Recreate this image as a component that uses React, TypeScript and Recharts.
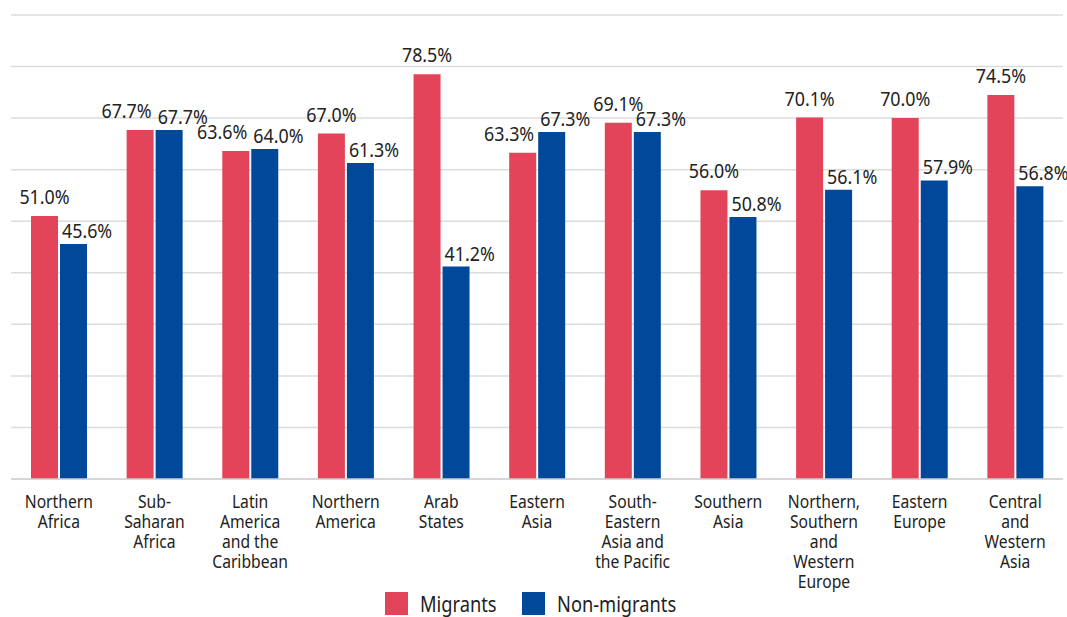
import React from "react";
import { BarChart, Bar, XAxis, YAxis, CartesianGrid, Legend, LabelList } from "recharts";

const categories = [
  "Northern\nAfrica",
  "Sub-\nSaharan\nAfrica",
  "Latin\nAmerica\nand the\nCaribbean",
  "Northern\nAmerica",
  "Arab\nStates",
  "Eastern\nAsia",
  "South-\nEastern\nAsia and\nthe Pacific",
  "Southern\nAsia",
  "Northern,\nSouthern\nand\nWestern\nEurope",
  "Eastern\nEurope",
  "Central\nand\nWestern\nAsia",
];
const migrants = [51.0, 67.7, 63.6, 67.0, 78.5, 63.3, 69.1, 56.0, 70.1, 70.0, 74.5];
const nonMigrants = [45.6, 67.7, 64.0, 61.3, 41.2, 67.3, 67.3, 50.8, 56.1, 57.9, 56.8];
const yTicks = [0, 10, 20, 30, 40, 50, 60, 70, 80, 90];
const seriesNames = ["Migrants", "Non-migrants"];

const RED = "#E4445A";
const BLUE = "#00489A";
const FONT = "'Noto Sans', 'Open Sans', sans-serif";
const SQUEEZE = 0.87;
const BAR_GAP = 2;
const RED_GAP = 12;
const BLUE_GAP = 6;

const data = categories.map((c, i) => ({ name: c, Migrants: migrants[i], "Non-migrants": nonMigrants[i] }));

const Tick = (props: any) => {
  const { x, y, payload } = props;
  const lines = String(payload.value).split("\n");
  return (
    <g>
      {lines.map((l, i) => (
        <text
          key={i}
          transform={`translate(${x},${Number(y) + 21 + i * 20}) scale(${SQUEEZE},1)`}
          x={0}
          y={0}
          textAnchor="middle"
          fill="#222"
          fontSize={18}
          fontFamily={FONT}
        >
          {l}
        </text>
      ))}
    </g>
  );
};

const txt = (x: number, y: number, anchor: string, value: number) => (
  <text transform={`translate(${x},${y}) scale(${SQUEEZE},1)`} x={0} y={0} textAnchor={anchor as any} fill="#222" fontSize={20.5} fontFamily={FONT}>
    {`${Number(value).toFixed(1)}%`}
  </text>
);

const RedLabel = (props: any) => {
  const vb = props.viewBox || {};
  const x = Number(props.x ?? vb.x);
  const y = Number(props.y ?? vb.y);
  const w = Number(props.width ?? vb.width);
  const h = Number(props.height ?? vb.height);
  const value = Number(props.value);
  const idx = typeof props.index === "number" ? props.index : migrants.indexOf(value);
  const blue = nonMigrants[idx];
  const pxPer = h / value;
  const blueTop = y + h - blue * pxPer;
  const redBase = y - RED_GAP;
  const blueBase = blueTop - BLUE_GAP;
  const blueStart = x + w + BAR_GAP + 2;
  const collide = Math.abs(redBase - blueBase) < 12 || redBase + 4 > blueTop;
  if (collide) return txt(blueStart - 6, redBase, "end", value);
  return txt(x + w / 2, redBase, "middle", value);
};

const BlueLabel = (props: any) => {
  const vb = props.viewBox || {};
  const x = Number(props.x ?? vb.x);
  const y = Number(props.y ?? vb.y);
  return txt(x + 2, y - BLUE_GAP, "start", Number(props.value));
};

const LegendContent = () => (
  <svg width={1067} height={27} style={{ display: "block" }}>
    <rect x={385} y={2} width={23} height={23} fill={RED} />
    <text transform={`translate(420,22) scale(${SQUEEZE},1)`} fontSize={21} fontFamily={FONT} fill="#222">{seriesNames[0]}</text>
    <rect x={522} y={2} width={23} height={23} fill={BLUE} />
    <text transform={`translate(557,22) scale(${SQUEEZE},1)`} fontSize={21} fontFamily={FONT} fill="#222">{seriesNames[1]}</text>
  </svg>
);

export default function App() {
  return (
    <div style={{ position: "absolute", left: 0, top: 0, width: 1067, height: 617, background: "#fff", overflow: "hidden" }}>
      <BarChart width={1067} height={617} data={data} margin={{ top: 15, right: 4, left: 11, bottom: 0 }} barGap={BAR_GAP} barSize={27}>
        <CartesianGrid horizontal vertical={false} stroke="#dcdcdc" strokeWidth={1.5} />
        <YAxis hide domain={[0, 90]} ticks={yTicks} />
        <XAxis dataKey="name" axisLine={{ stroke: "#d0d0d0", strokeWidth: 1.5 }} tickLine={false} interval={0} height={111} tick={<Tick />} />
        <Legend verticalAlign="bottom" content={<LegendContent />} wrapperStyle={{ left: 0, width: 1067, height: 27, bottom: 0 }} />
        <Bar dataKey="Migrants" fill={RED} isAnimationActive={false}>
          <LabelList dataKey="Migrants" content={<RedLabel />} />
        </Bar>
        <Bar dataKey="Non-migrants" fill={BLUE} isAnimationActive={false}>
          <LabelList dataKey="Non-migrants" content={<BlueLabel />} />
        </Bar>
      </BarChart>
    </div>
  );
}
